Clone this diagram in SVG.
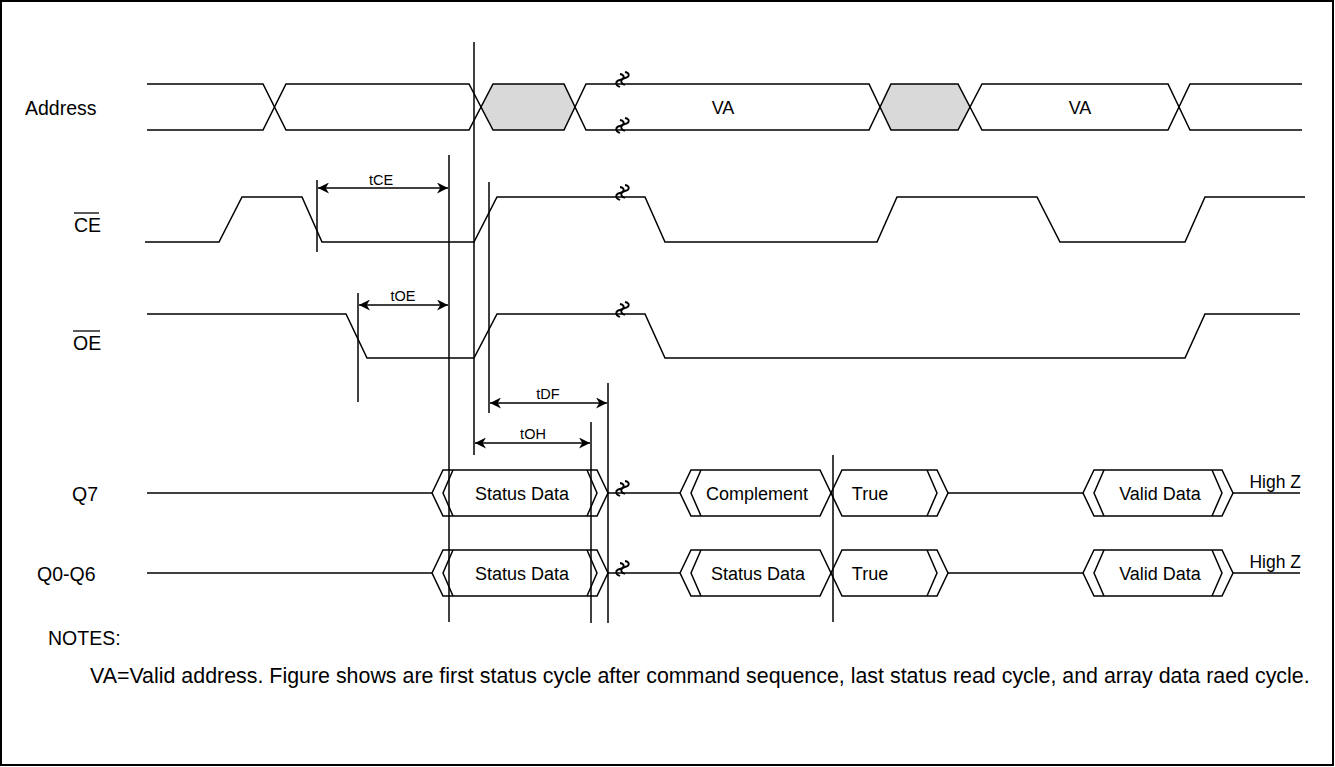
<svg xmlns="http://www.w3.org/2000/svg" width="1335" height="767" viewBox="0 0 1335 767">
<style>
.w{fill:none;stroke:#000;stroke-width:1.5}
.m{fill:none;stroke:#000;stroke-width:1.5}
.g{fill:#d9d9d9;stroke:none}
.br{fill:none;stroke:#000;stroke-width:1.8}
text{font-family:"Liberation Sans",Arial,sans-serif;fill:#000}
.lb{font-size:19.5px}
.sm{font-size:14.5px;text-anchor:middle}
.bx{font-size:18px;text-anchor:middle}
.hz{font-size:17.5px;text-anchor:end}
</style>
<defs>
<marker id="ah" viewBox="0 0 10 10" refX="10" refY="5" markerWidth="11" markerHeight="11" markerUnits="userSpaceOnUse" orient="auto-start-reverse">
<path d="M0,0 L10,5 L0,10 L3,5 Z" fill="#000"/>
</marker>
<g id="brk">
<path class="br" d="M-3,-10 c5,1 5,5 0,6 c-5,1 -5,5 0,7"/>
<path class="br" d="M2,-12 c5,1 5,5 0,6 c-5,1 -5,5 0,7"/>
</g>
</defs>
<rect x="1" y="1" width="1332" height="764" fill="#fff" stroke="#000" stroke-width="2"/>

<g id="labels">
<text class="lb" x="25" y="115">Address</text>
<text class="lb" x="74" y="232">CE</text>
<line x1="74" y1="213" x2="99" y2="213" stroke="#000" stroke-width="1.3"/>
<text class="lb" x="73" y="350">OE</text>
<line x1="73" y1="331" x2="100" y2="331" stroke="#000" stroke-width="1.3"/>
<text class="lb" x="72" y="501">Q7</text>
<text class="lb" x="37" y="581">Q0-Q6</text>
</g>

<g id="address">
<polygon class="g" points="481,107 493,84 564,84 575,107 564,130 493,130"/>
<polygon class="g" points="880,107 891,84 958,84 970,107 958,130 891,130"/>
<path class="w" d="M147,84 H263 L286,130 H469 L493,84 H564 L586,130 H869 L891,84 H958 L982,130 H1168 L1190,84 H1302"/>
<path class="w" d="M147,130 H263 L286,84 H469 L493,130 H564 L586,84 H869 L891,130 H958 L982,84 H1168 L1190,130 H1302"/>
<text class="bx" x="723" y="114">VA</text>
<text class="bx" x="1080" y="114">VA</text>
<use href="#brk" x="623" y="84"/>
<use href="#brk" x="623" y="130"/>
</g>

<g id="ce">
<path class="w" d="M145,242 H219 L242,197 H302 L322,242 H474 L497,197 H645 L665,242 H877 L897,197 H1037 L1060,242 H1185 L1205,197 H1305"/>
<use href="#brk" x="623" y="197"/>
</g>

<g id="oe">
<path class="w" d="M147,314 H346 L367,358 H474 L497,314 H645 L665,358 H1185 L1205,314 H1300"/>
<use href="#brk" x="623" y="314"/>
</g>

<g id="q7">
<path class="w" d="M147,493 H432"/>
<path class="w" d="M432,493 L443,470 H597 L608,493 L597,516 H443 Z"/>
<path class="w" d="M453,470 L443,493 L453,516 M587,470 L597,493 L587,516"/>
<text class="bx" x="522" y="500">Status Data</text>
<path class="w" d="M608,493 H680"/>
<path class="w" d="M680,493 L691,470 H820 L842,516 H937 L948,493 L937,470 H842 L820,516 H691 Z"/>
<path class="w" d="M701,470 L691,493 L701,516 M927,470 L937,493 L927,516"/>
<text class="bx" x="757" y="500">Complement</text>
<text class="bx" x="870" y="500">True</text>
<path class="w" d="M948,493 H1083"/>
<path class="w" d="M1083,493 L1094,470 H1222 L1233,493 L1222,516 H1094 Z"/>
<path class="w" d="M1104,470 L1094,493 L1104,516 M1212,470 L1222,493 L1212,516"/>
<text class="bx" x="1160" y="500">Valid Data</text>
<path class="w" d="M1233,493 H1300"/>
<text class="hz" x="1301" y="488">High Z</text>
<use href="#brk" x="623" y="493"/>
</g>

<g id="q0q6">
<path class="w" d="M147,573 H432"/>
<path class="w" d="M432,573 L443,550 H597 L608,573 L597,596 H443 Z"/>
<path class="w" d="M453,550 L443,573 L453,596 M587,550 L597,573 L587,596"/>
<text class="bx" x="522" y="580">Status Data</text>
<path class="w" d="M608,573 H680"/>
<path class="w" d="M680,573 L691,550 H820 L842,596 H937 L948,573 L937,550 H842 L820,596 H691 Z"/>
<path class="w" d="M701,550 L691,573 L701,596 M927,550 L937,573 L927,596"/>
<text class="bx" x="758" y="580">Status Data</text>
<text class="bx" x="870" y="580">True</text>
<path class="w" d="M948,573 H1083"/>
<path class="w" d="M1083,573 L1094,550 H1222 L1233,573 L1222,596 H1094 Z"/>
<path class="w" d="M1104,550 L1094,573 L1104,596 M1212,550 L1222,573 L1212,596"/>
<text class="bx" x="1160" y="580">Valid Data</text>
<path class="w" d="M1233,573 H1300"/>
<text class="hz" x="1301" y="568">High Z</text>
<use href="#brk" x="623" y="573"/>
</g>

<g id="connectors">
<line class="m" x1="317" y1="180" x2="317" y2="252"/>
<line class="m" x1="358" y1="293" x2="358" y2="402"/>
<line class="m" x1="449" y1="155" x2="449" y2="622"/>
<line class="m" x1="474" y1="42" x2="474" y2="455"/>
<line class="m" x1="489" y1="182" x2="489" y2="413"/>
<line class="m" x1="591" y1="422" x2="591" y2="623"/>
<line class="m" x1="608" y1="383" x2="608" y2="623"/>
<line class="m" x1="833" y1="455" x2="833" y2="622"/>
<line class="m" x1="318" y1="188" x2="448" y2="188" marker-start="url(#ah)" marker-end="url(#ah)"/>
<line class="m" x1="359" y1="305" x2="448" y2="305" marker-start="url(#ah)" marker-end="url(#ah)"/>
<line class="m" x1="490" y1="403" x2="607" y2="403" marker-start="url(#ah)" marker-end="url(#ah)"/>
<line class="m" x1="475" y1="443" x2="590" y2="443" marker-start="url(#ah)" marker-end="url(#ah)"/>
<text class="sm" x="381" y="185">tCE</text>
<text class="sm" x="403" y="301">tOE</text>
<text class="sm" x="548" y="399">tDF</text>
<text class="sm" x="533" y="439">tOH</text>
</g>

<g id="notes">
<text class="lb" x="48" y="645">NOTES:</text>
<text x="90" y="683" font-size="21.4px">VA=Valid address. Figure shows are first status cycle after command sequence, last status read cycle, and array data raed cycle.</text>
</g>
</svg>
